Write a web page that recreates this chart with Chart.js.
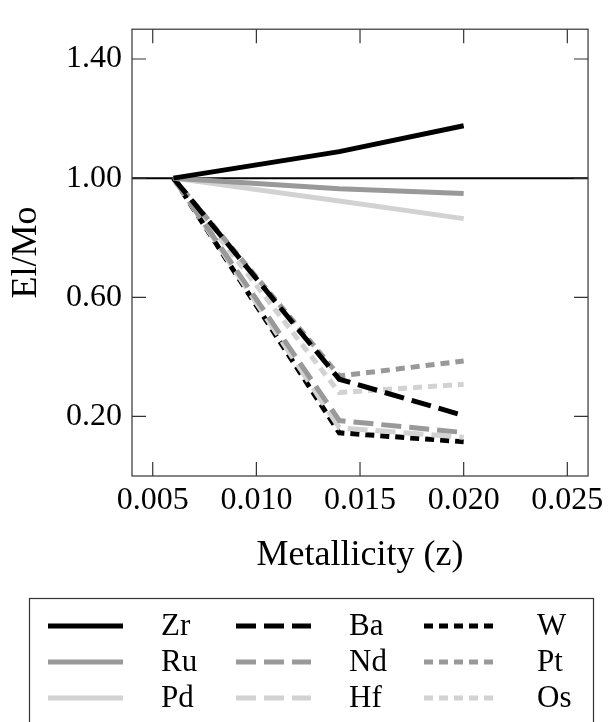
<!DOCTYPE html>
<html>
<head>
<meta charset="utf-8">
<script src="https://cdn.jsdelivr.net/npm/chart.js@4.4.1/dist/chart.umd.min.js"></script>
<style>
  html, body { margin: 0; padding: 0; background: #fff; }
  canvas { display: block; }
</style>
</head>
<body>
<canvas id="c" width="609" height="722"></canvas>
<script>
// ---- data ----
const metallicity = [0.006, 0.014, 0.020];
const elements = ['Zr', 'Ru', 'Pd', 'Ba', 'Nd', 'Hf', 'W', 'Pt', 'Os'];
const zr = [1.00, 1.089, 1.176];
const ru = [1.00, 0.964, 0.948];
const pd = [1.00, 0.923, 0.864];
const ba = [1.00, 0.325, 0.203];
const nd = [1.00, 0.186, 0.146];
const hf = [1.00, 0.162, 0.130];
const w  = [1.00, 0.145, 0.115];
const pt = [1.00, 0.336, 0.386];
const os = [1.00, 0.280, 0.308];
const xTicks = [0.005, 0.010, 0.015, 0.020, 0.025];
const xTickLabels = ['0.005', '0.010', '0.015', '0.020', '0.025'];
const yTicks = [0.2, 0.6, 1.0, 1.4];
const yTickLabels = ['0.20', '0.60', '1.00', '1.40'];
const referenceLevel = 1.0;

// ---- styles ----
const BLACK = '#000000', GRAY = '#999999', LIGHT = '#d2d2d2';
const SOLID = [], LONG = [20, 8], SHORT = [9, 6];
const seriesValues = [zr, ru, pd, ba, nd, hf, w, pt, os];
const seriesColors = [BLACK, GRAY, LIGHT, BLACK, GRAY, LIGHT, BLACK, GRAY, LIGHT];
const seriesDash = [SOLID, SOLID, SOLID, LONG, LONG, LONG, SHORT, SHORT, SHORT];
const FONT = 'Liberation Serif';

const datasets = elements.map((name, i) => ({
  label: name,
  data: metallicity.map((x, j) => ({ x: x, y: seriesValues[i][j] })),
  borderColor: seriesColors[i],
  backgroundColor: seriesColors[i],
  borderDash: seriesDash[i],
  borderWidth: 5,
  pointRadius: 0,
  tension: 0,
  fill: false,
  borderCapStyle: 'butt'
}));

const framePlugin = {
  id: 'frame',
  beforeDatasetsDraw(chart) {
    const { ctx, chartArea: a, scales } = chart;
    const y = scales.y.getPixelForValue(referenceLevel);
    ctx.save();
    ctx.strokeStyle = '#000';
    ctx.lineWidth = 2;
    ctx.beginPath();
    ctx.moveTo(a.left, y);
    ctx.lineTo(a.right, y);
    ctx.stroke();
    ctx.restore();
  },
  afterDatasetsDraw(chart) {
    const { ctx, chartArea: a, scales } = chart;
    const TL = 14;
    ctx.save();
    ctx.strokeStyle = '#333';
    ctx.lineWidth = 1.2;
    ctx.strokeRect(a.left, a.top, a.right - a.left, a.bottom - a.top);
    ctx.beginPath();
    xTicks.forEach(v => {
      const px = scales.x.getPixelForValue(v);
      ctx.moveTo(px, a.bottom); ctx.lineTo(px, a.bottom - TL);
      ctx.moveTo(px, a.top); ctx.lineTo(px, a.top + TL);
    });
    yTicks.forEach(v => {
      const py = scales.y.getPixelForValue(v);
      ctx.moveTo(a.left, py); ctx.lineTo(a.left + TL, py);
      ctx.moveTo(a.right, py); ctx.lineTo(a.right - TL, py);
    });
    ctx.stroke();
    ctx.restore();
  },
  afterDraw(chart) {
    const ctx = chart.ctx;
    // legend box
    const box = { left: 29.5, top: 598.5, right: 593.5, bottom: 730 };
    ctx.save();
    ctx.strokeStyle = '#333';
    ctx.lineWidth = 1.2;
    ctx.strokeRect(box.left, box.top, box.right - box.left, box.bottom - box.top);
    const colLine = [48, 236, 424];
    const colText = [161, 349, 537];
    const rowY = [626, 662, 698];
    const lineLen = 75;
    ctx.font = '31px "' + FONT + '"';
    ctx.fillStyle = '#000';
    ctx.textBaseline = 'middle';
    chart.data.datasets.forEach((ds, i) => {
      const col = Math.floor(i / 3), row = i % 3;
      const y = rowY[row];
      ctx.save();
      ctx.strokeStyle = ds.borderColor;
      ctx.lineWidth = ds.borderWidth;
      ctx.setLineDash(ds.borderDash);
      ctx.beginPath();
      ctx.moveTo(colLine[col], y);
      ctx.lineTo(colLine[col] + lineLen, y);
      ctx.stroke();
      ctx.restore();
      ctx.fillText(ds.label, colText[col], y + 1);
    });
    ctx.restore();
  }
};

new Chart(document.getElementById('c'), {
  type: 'line',
  data: { datasets: datasets },
  options: {
    responsive: false,
    animation: false,
    events: [],
    layout: { padding: { top: 14, right: 15, bottom: 143, left: 0 } },
    plugins: { legend: { display: false }, tooltip: { enabled: false } },
    scales: {
      x: {
        type: 'linear',
        min: 0.004, max: 0.026,
        afterBuildTicks: s => { s.ticks = xTicks.map(v => ({ value: v })); },
        afterFit: s => { s.height = 103; },
        grid: { display: false, drawTicks: false },
        border: { display: false },
        ticks: {
          padding: 5,
          color: '#000',
          font: { family: FONT, size: 32 },
          maxRotation: 0,
          autoSkip: false,
          callback: (v) => { const k = xTicks.findIndex(t => Math.abs(t - v) < 1e-9); return k >= 0 ? xTickLabels[k] : ''; }
        },
        title: { display: true, text: 'Metallicity (z)', color: '#000', font: { family: FONT, size: 36 }, padding: { top: 0, bottom: 2 } }
      },
      y: {
        type: 'linear',
        min: 0, max: 1.5,
        afterBuildTicks: s => { s.ticks = yTicks.map(v => ({ value: v })); },
        afterFit: s => { s.width = 132; },
        grid: { display: false, drawTicks: false },
        border: { display: false },
        ticks: {
          padding: 10,
          color: '#000',
          font: { family: FONT, size: 32 },
          autoSkip: false,
          callback: (v) => { const k = yTicks.findIndex(t => Math.abs(t - v) < 1e-9); return k >= 0 ? yTickLabels[k] : ''; }
        },
        title: { display: true, text: 'El/Mo', color: '#000', font: { family: FONT, size: 36 }, padding: { top: 5, bottom: 0 } }
      }
    }
  },
  plugins: [framePlugin]
});
</script>
</body>
</html>
